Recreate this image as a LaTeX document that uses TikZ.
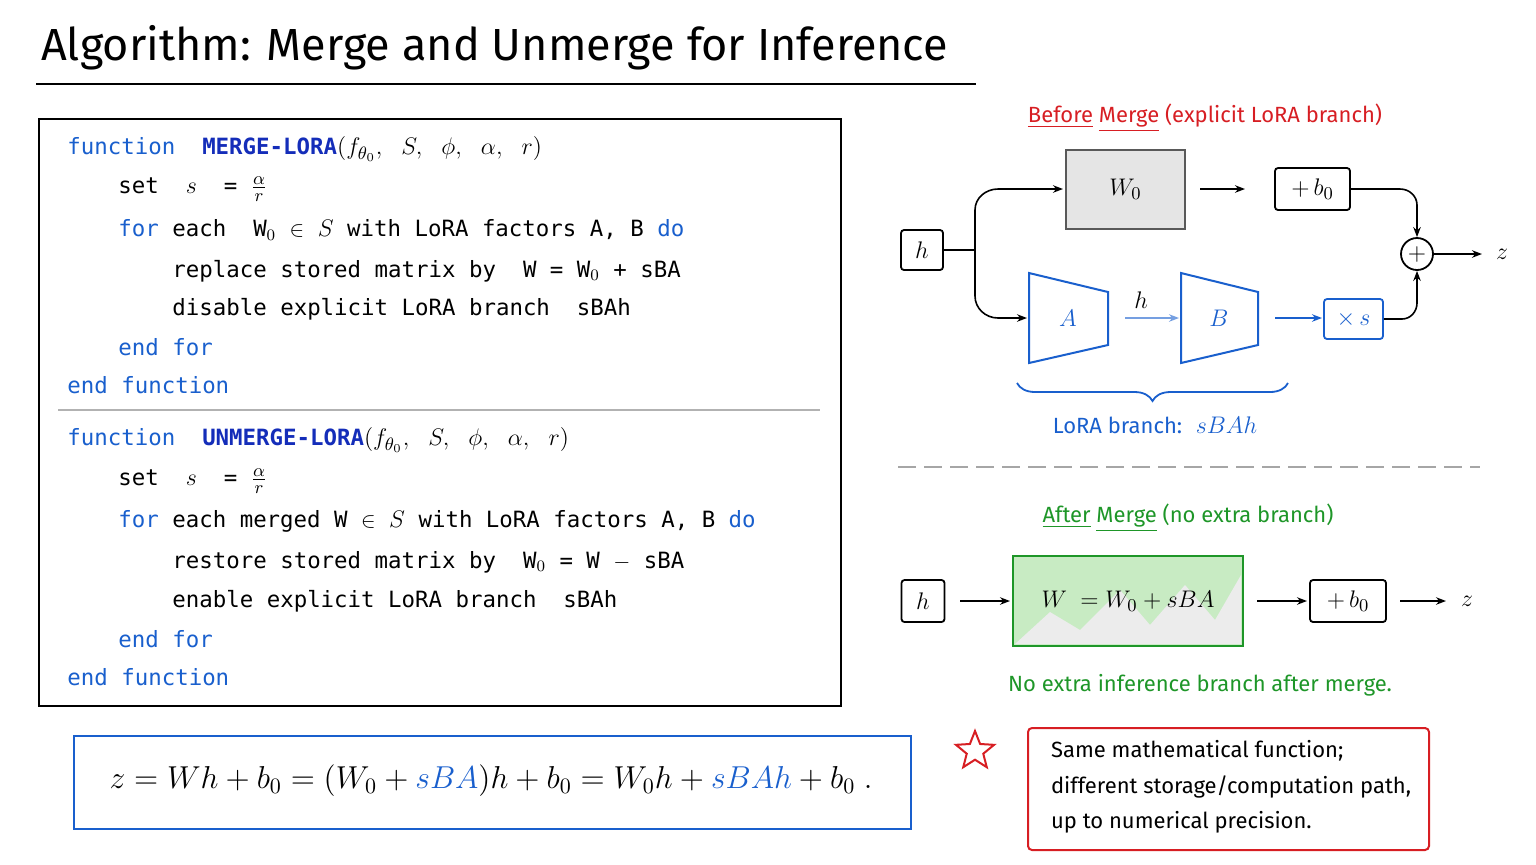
\documentclass[tikz,border=0pt]{standalone}
\usepackage{fontspec}
\setmainfont{Fira Sans}
\setmonofont{DejaVu Sans Mono}
\usetikzlibrary{arrows.meta,decorations.pathreplacing,shapes.geometric}
\definecolor{kw}{RGB}{25,95,205}
\definecolor{fn}{RGB}{20,45,185}
\definecolor{rd}{RGB}{215,30,35}
\definecolor{gn}{RGB}{30,150,40}
\definecolor{gfill}{RGB}{200,235,195}
\newcommand{\kwd}[1]{\textcolor{kw}{#1}}
\newcommand{\mth}[1]{{\fontsize{12.5}{14}\selectfont$#1$}}
\newcommand{\fr}{{\fontsize{13}{14}\selectfont$\frac{\alpha}{r}$}}
\begin{document}
\begin{tikzpicture}[x=0.5pt,y=-0.5pt,
  code/.style={anchor=west,font=\ttfamily\fontsize{11.2}{12}\selectfont,inner sep=0},
  lab/.style={font=\fontsize{11}{12}\selectfont},
  bx/.style={draw,line width=0.9pt,rounded corners=1.5pt,font=\fontsize{13}{14}\selectfont},
  arr/.style={-{Stealth[length=5pt]},line width=0.8pt}]
\useasboundingbox (0,0) rectangle (1536,864);
% title
\node[anchor=west,font=\fontsize{22.5}{26}\selectfont] (title) at (34,48) {Algorithm: Merge and Unmerge for Inference};
\draw[line width=1.4pt] (36,84) -- (976,84);
% code box
\node[draw,line width=1pt,minimum width=401pt,minimum height=293.5pt,anchor=north west,inner sep=0] (codebox) at (38,118) {};
\draw[gray!60,line width=0.8pt] (58,410) -- (820,410);
\node[code] (l1) at (67,149) {\kwd{function}\ \ \textcolor{fn}{\bfseries MERGE-LORA}\mth{(f_{\theta_0},\ S,\ \phi,\ \alpha,\ r)}};
\node[code] (l2) at (118,189) {set\ \ \mth{s}\ \ =\ \fr};
\node[code] (l3) at (118,230) {\kwd{for} each\ \ W$_0$\ $\in$\ \mth{S} with LoRA factors A, B \kwd{do}};
\node[code] (l4) at (172,271) {replace stored matrix by\ \ W = W$_0$ + sBA};
\node[code] (l5) at (172,309) {disable explicit LoRA branch\ \ sBAh};
\node[code] (l6) at (118,347) {\kwd{end for}};
\node[code] (l7) at (67,385) {\kwd{end function}};
\node[code] (m1) at (67,440) {\kwd{function}\ \ \textcolor{fn}{\bfseries UNMERGE-LORA}\mth{(f_{\theta_0},\ S,\ \phi,\ \alpha,\ r)}};
\node[code] (m2) at (118,481) {set\ \ \mth{s}\ \ =\ \fr};
\node[code] (m3) at (118,521) {\kwd{for} each merged W\ $\in$\ \mth{S} with LoRA factors A, B \kwd{do}};
\node[code] (m4) at (172,562) {restore stored matrix by\ \ W$_0$ = W $-$ sBA};
\node[code] (m5) at (172,601) {enable explicit LoRA branch\ \ sBAh};
\node[code] (m6) at (118,639) {\kwd{end for}};
\node[code] (m7) at (67,677) {\kwd{end function}};
% formula
\node[draw=kw,line width=1pt,minimum width=418.5pt,minimum height=46.5pt,anchor=north west,inner sep=0] (fbox) at (73,735) {};
\node[font=\fontsize{14.4}{17}\selectfont] (formula) at (491,781) {\scalebox{1.1}{$z = Wh + b_0 = (W_0 + \textcolor{kw}{sBA})h + b_0 = W_0h + \textcolor{kw}{sBAh} + b_0\ .$}};
% before merge
\node[lab,rd] (bm) at (1205,118) {\underline{Before}\ \underline{Merge}\ (explicit LoRA branch)};
\node[bx,fill=gray!20,draw=gray!70!black,minimum width=59.5pt,minimum height=39.5pt,rounded corners=0] (w0) at (1125.5,189.5) {$W_0$};
\node[bx,minimum width=37.5pt,minimum height=21pt] (b0) at (1312.5,189) {$+\,b_0$};
\node[bx,minimum width=21pt,minimum height=20pt] (h1) at (922,250) {$h$};
\node[circle,draw,line width=0.9pt,minimum size=16pt,inner sep=0,font=\large] (plus) at (1417,254) {$+$};
\node[font=\large] (z1) at (1502,254) {$z$};
\draw[kw,line width=1pt,fill=white] (1029,273) -- (1108,292) -- (1108,345) -- (1029,363) -- cycle;
\draw[kw,line width=1pt,fill=white] (1181,273) -- (1258,292) -- (1258,345) -- (1181,363) -- cycle;
\node[kw,font=\large] (A) at (1068,318) {$A$};
\node[kw,font=\large] (B) at (1219,318) {$B$};
\node[font=\large] (hm) at (1141,300) {$h$};
\node[bx,draw=kw,minimum width=29.5pt,minimum height=20pt] (xs) at (1353.5,319) {\textcolor{kw}{$\times\,s$}};
\coordinate (split) at (975,250);
\draw[line width=0.8pt] (h1.east) -- (split);
\draw[arr] (split) -- (975,210) to[out=90,in=180] (998,189) -- (1063,189);
\draw[arr] (split) -- (975,296) to[out=-90,in=180] (998,318) -- (1027,318);
\draw[arr] (1200,189) -- (1245,189);
\draw[arr] (b0.east) -- (1400,189) to[out=0,in=90] (1417,205) -- (plus.north);
\draw[arr] (xs.east) -- (1402,319) to[out=0,in=-90] (1417,303) -- (plus.south);
\draw[arr] (plus.east) -- (1482,254);
\draw[arr,kw!60] (1125,318) -- (1179,318);
\draw[arr,kw] (1275,318) -- (1322,318);
\draw[kw,line width=0.9pt,decorate,decoration={brace,mirror,amplitude=9pt}] (1017,383) -- (1288,383);
\node[lab,kw] (lb) at (1155,425) {LoRA branch: \ {\large$sBAh$}};
\draw[gray!70,dashed,dash pattern=on 9pt off 4pt,line width=0.8pt] (898,467) -- (1480,467);
% after merge
\node[lab,gn] (am) at (1188,518) {\underline{After}\ \underline{Merge}\ (no extra branch)};
\node[bx,minimum width=21.5pt,minimum height=21pt] (h2) at (923,601) {$h$};
\node[draw=gn,line width=1pt,fill=gfill,minimum width=115pt,minimum height=45pt,inner sep=0] (wbox) at (1128,601) {};
\fill[gray!15] (1015,644) -- (1050,612) -- (1080,630) -- (1120,590) -- (1150,625) -- (1185,585) -- (1215,620) -- (1241,575) -- (1241,644) -- cycle;
\node[font=\fontsize{12.5}{15}\selectfont] (wt) at (1128,601) {$W\ =W_0+sBA$};
\node[bx,minimum width=38pt,minimum height=21pt] (b02) at (1348,601) {$+\,b_0$};
\node[font=\large] (z2) at (1467,601) {$z$};
\draw[arr] (960,601) -- (1010,601);
\draw[arr] (1257,601) -- (1307,601);
\draw[arr] (1400,601) -- (1446,601);
\node[lab,gn] (note) at (1200,685) {No extra inference branch after merge.};
% star and red box
\node[star,star points=5,star point ratio=2.3,draw=rd,line width=1pt,minimum size=20pt,inner sep=0] (star) at (975,751) {};
\node[draw=rd,line width=1pt,rounded corners=2pt,minimum width=200.5pt,minimum height=61pt,anchor=north west,inner sep=0] (rbox) at (1027,727) {};
\node[lab,anchor=west] (r1) at (1044,751) {Same mathematical function;};
\node[lab,anchor=west] (r2) at (1044,787) {different storage/computation path,};
\node[lab,anchor=west] (r3) at (1044,822) {up to numerical precision.};
\end{tikzpicture}
\end{document}
